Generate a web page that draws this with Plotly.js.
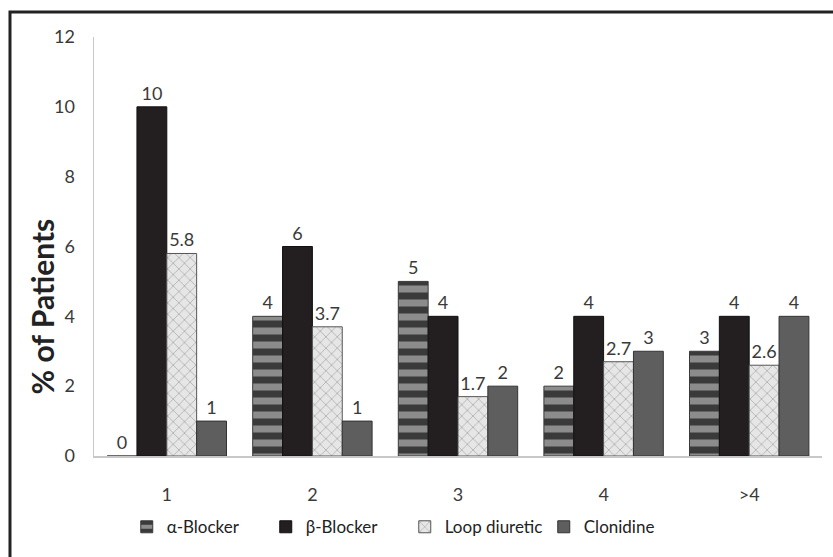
<!DOCTYPE html>
<html>
<head>
<meta charset="utf-8">
<script src="https://cdn.plot.ly/plotly-3.0.1.min.js"></script>
<style>html,body{margin:0;padding:0;background:#fff;}#chart{width:833px;height:557px;}</style>
</head>
<body>
<div id="chart"></div>
<script>
var categories = ["1", "2", "3", "4", ">4"];
var alphaBlocker = [0, 4, 5, 2, 3];
var betaBlocker = [10, 6, 4, 4, 4];
var loopDiuretic = [5.8, 3.7, 1.7, 2.7, 2.6];
var clonidine = [1, 1, 2, 3, 4];
var seriesNames = ["\u03B1-Blocker", "\u03B2-Blocker", "Loop diuretic", "Clonidine"];
var yTicks = [0, 2, 4, 6, 8, 10, 12];

var FONT = "Lato, 'Open Sans', sans-serif";
var TXT = "#3a3a3a";

function bar(name, vals, marker) {
  return {
    type: "bar", name: name, x: categories, y: vals,
    text: vals.map(String), textposition: "outside", cliponaxis: false,
    textfont: {family: FONT, size: 18, color: TXT},
    marker: marker
  };
}

var data = [
  bar(seriesNames[0], alphaBlocker, {color: "#6a6a6a", line: {color: "#3a3a3a", width: 1},
      pattern: {shape: "-", fgcolor: "#3a3a3a", bgcolor: "#8c8c8c", size: 14, solidity: 0.5}}),
  bar(seriesNames[1], betaBlocker, {color: "#231f20", line: {color: "#111", width: 1}}),
  bar(seriesNames[2], loopDiuretic, {color: "#e2e2e2", line: {color: "#555", width: 1},
      pattern: {shape: "x", fgcolor: "#aaaaaa", bgcolor: "#e6e6e6", size: 8, solidity: 0.18}}),
  bar(seriesNames[3], clonidine, {color: "#5e5e5e", line: {color: "#333", width: 1}})
];

var layout = {
  width: 833, height: 557,
  margin: {l: 94, r: 11, t: 37, b: 101},
  paper_bgcolor: "#fff", plot_bgcolor: "#fff",
  barmode: "group", bargap: 0.18, bargroupgap: 0,
  font: {family: FONT, color: TXT},
  showlegend: true,
  legend: {orientation: "h", x: 0.045, xanchor: "left", y: -0.17, yanchor: "middle",
           font: {family: FONT, size: 17, color: "#222"}, entrywidth: 94, traceorder: "normal"},
  xaxis: {type: "category", showgrid: false, zeroline: false, showline: true, linecolor: "#c8c8c8", linewidth: 1.5,
          ticks: "outside", ticklen: 22, tickcolor: "rgba(0,0,0,0)", tickfont: {family: FONT, size: 18, color: TXT}},
  yaxis: {range: [0, 12], tickvals: yTicks, showgrid: false, zeroline: false, showline: true,
          linecolor: "#c8c8c8", linewidth: 1.5, ticks: "outside", ticklen: 14, tickcolor: "rgba(0,0,0,0)",
          tickfont: {family: FONT, size: 18, color: TXT}},
  annotations: [{text: "<b>% of Patients</b>", xref: "paper", yref: "paper", x: -0.072, y: 0.356,
                 xanchor: "center", yanchor: "middle",
                 textangle: -90, showarrow: false, font: {family: FONT, size: 30, color: "#222"}}],
  shapes: [{type: "rect", xref: "paper", yref: "paper", x0: -0.1154, y0: -0.4, x1: 1.2, y1: 1.0597,
            line: {color: "#222", width: 3}, fillcolor: "rgba(0,0,0,0)", layer: "below"}]
};

Plotly.newPlot("chart", data, layout, {displayModeBar: false, staticPlot: true});
</script>
</body>
</html>
